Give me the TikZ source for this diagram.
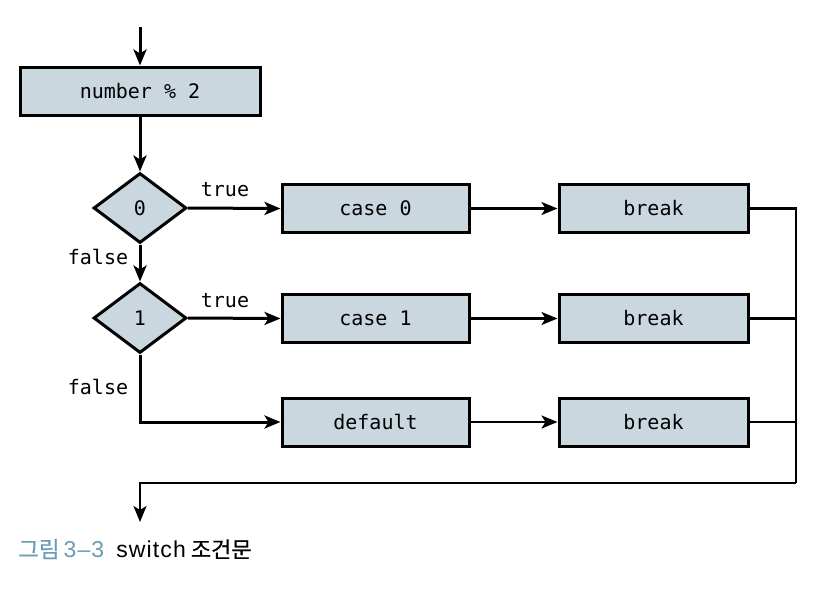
\documentclass[tikz,border=0pt]{standalone}
\usepackage{fontspec}
\setmonofont{DejaVu Sans Mono}
\newfontfamily\krfont[FakeBold=0.6]{Noto Sans CJK KR}
\newfontfamily\capsans[LetterSpace=5]{Liberation Sans}
\usetikzlibrary{shapes.geometric,arrows.meta}
\definecolor{boxfill}{HTML}{CAD7DF}
\definecolor{capblue}{HTML}{6A9DB5}
\tikzset{
  stepbox/.style={draw=black, line width=3pt, fill=boxfill, rectangle, inner sep=0pt, minimum height=48pt, font=\ttfamily\fontsize{20}{22}\selectfont},
  decbox/.style={draw=black, line width=3pt, fill=boxfill, diamond, inner sep=0pt, minimum width=93pt, minimum height=70pt, font=\ttfamily\fontsize{20}{22}\selectfont},
  flow/.style={line width=3pt, -{Stealth[length=16pt,width=13pt,inset=4pt]}},
  flowthin/.style={line width=2.2pt, -{Stealth[length=16pt,width=13pt,inset=4pt]}},
  joinline/.style={line width=2.2pt},
  lbl/.style={font=\ttfamily\fontsize{20}{22}\selectfont, inner sep=0pt}
}
\begin{document}
\begin{tikzpicture}[x=1pt,y=-1pt]
\useasboundingbox (0,0) rectangle (823,598);
\coordinate (start) at (140,27);
\node[stepbox, minimum width=240pt] (num) at (140,91) {number~\%~2};
\node[decbox] (d0) at (140,208) {0};
\node[decbox] (d1) at (140,318) {1};
\node[stepbox, minimum width=187pt] (c0) at (375.5,208.5) {case 0};
\node[stepbox, minimum width=187pt] (c1) at (375.5,318.5) {case 1};
\node[stepbox, minimum width=187pt] (df) at (375.5,422) {default};
\node[stepbox, minimum width=189pt] (b0) at (653.5,208.5) {break};
\node[stepbox, minimum width=189pt] (b1) at (653.5,318.5) {break};
\node[stepbox, minimum width=189pt] (b2) at (653.5,422) {break};
\coordinate (rj) at (796,483);
\coordinate (lj) at (140,483);
\coordinate (fin) at (140,522);
\node[lbl] (t0) at (225,190) {true};
\node[lbl] (t1) at (225,301) {true};
\node[lbl] (f0) at (98,257) {false};
\node[lbl] (f1) at (98,387) {false};

\draw[flow] (start) -- (num.north);
\draw[flow] (num.south) -- (d0.north);
\draw[flow] (d0.east) -- (c0.west);
\draw[flow] (d0.south) -- (d1.north);
\draw[flow] (d1.east) -- (c1.west);
\draw[flow] (d1.south) |- (df.west);
\draw[flowthin] (c0.east) -- (b0.west);
\draw[flowthin] (c1.east) -- (b1.west);
\draw[flowthin] (df.east) -- (b2.west);
\draw[joinline] (b0.east) -| (rj);
\draw[joinline] (b1.east) -- (b1.east -| rj);
\draw[joinline] (b2.east) -- (b2.east -| rj);
\draw[flowthin] (rj) -- (lj) -- (fin);

\node[anchor=west, inner sep=0pt] (cap) at (18,549)
  {\textcolor{capblue}{\krfont\fontsize{22.5}{24}\selectfont 그림\hspace{4pt}\capsans\fontsize{23}{24}\selectfont 3–3}\hspace{12pt}{\capsans\fontsize{23}{24}\selectfont switch}\hspace{5pt}{\krfont\fontsize{22}{24}\selectfont 조건문}};
\end{tikzpicture}
\end{document}
